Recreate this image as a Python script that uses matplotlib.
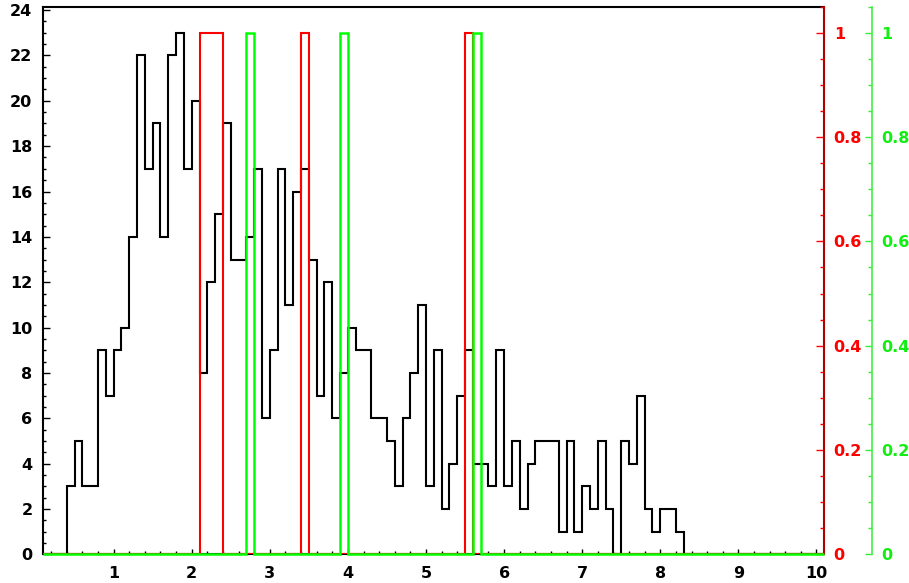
import numpy as np
import matplotlib
matplotlib.use("Agg")
import matplotlib.pyplot as plt
from matplotlib.ticker import MultipleLocator, FixedLocator, FixedFormatter

# Histogram binning: 100 bins of width 0.1 from 0.1 to 10.1
x_min, x_max, n_bins = 0.1, 10.1, 100

# Main distribution: counts of consecutive bins starting at 0.4
black_start = 0.4
black_counts = [3, 5, 3, 3, 9, 7,
                9, 10, 14, 22, 17, 19, 14, 22, 23, 17,
                20, 8, 12, 15, 19, 13, 13, 14, 17, 6,
                9, 17, 11, 16, 17, 13, 7, 12, 6, 8,
                10, 9, 9, 6, 6, 5, 3, 6, 8, 11,
                3, 9, 2, 4, 7, 9, 4, 4, 3, 9,
                3, 5, 2, 4, 5, 5, 5, 1, 5, 1,
                3, 2, 5, 2, 0, 5, 4, 7, 2, 1,
                2, 2, 1]

# Marker histograms (lower bin edges of filled bins, each with content 1)
red_bins = [2.1, 2.2, 2.3, 3.4, 5.5]
green_bins = [2.7, 3.9, 5.6]

x_ticks = [1, 2, 3, 4, 5, 6, 7, 8, 9, 10]
y_ticks = [0, 2, 4, 6, 8, 10, 12, 14, 16, 18, 20, 22, 24]
right_ticks = [0, 0.2, 0.4, 0.6, 0.8, 1.0]
right_labels = ["0", "0.2", "0.4", "0.6", "0.8", "1"]

edges = np.linspace(x_min, x_max, n_bins + 1)
width = (x_max - x_min) / n_bins


def bin_index(x):
    return int(round((x - x_min) / width))


black = np.zeros(n_bins)
i0 = bin_index(black_start)
black[i0:i0 + len(black_counts)] = black_counts

red = np.zeros(n_bins)
for b in red_bins:
    red[bin_index(b)] = 1

green = np.zeros(n_bins)
for b in green_bins:
    green[bin_index(b)] = 1

plt.rcParams["font.family"] = ["DejaVu Sans"]
plt.rcParams["font.weight"] = "bold"

W, H = 909, 583
fig = plt.figure(figsize=(W / 100, H / 100), dpi=100)
left, right, top, bottom = 43.3, 824.3, 6.7, 554.3
ax = fig.add_axes([left / W, 1 - bottom / H, (right - left) / W, (bottom - top) / H])

fs = 11.5
red_c = "#ff0000"
green_c = "#11ee11"

# --- main histogram ---
ax.stairs(black, edges, baseline=0, color="black", lw=1.5, zorder=3)
ax.set_xlim(x_min, x_max)
ax.set_ylim(0, max(black_counts) * 1.05)

for s in ("left", "top", "bottom"):
    ax.spines[s].set_linewidth(1.5)
    ax.spines[s].set_color("black")
ax.spines["right"].set_visible(False)

ax.xaxis.set_major_locator(FixedLocator(x_ticks))
ax.xaxis.set_minor_locator(MultipleLocator(0.2))
ax.yaxis.set_major_locator(FixedLocator(y_ticks))
ax.yaxis.set_minor_locator(MultipleLocator(0.5))
ax.tick_params(axis="x", which="major", direction="in", length=3.8, width=1.0,
               labelsize=fs, pad=8.3, top=False)
ax.tick_params(axis="x", which="minor", direction="in", length=2.2, width=1.0, top=False)
ax.tick_params(axis="y", which="major", direction="in", length=5.0, width=1.0,
               labelsize=fs, pad=7.8, right=False)
ax.tick_params(axis="y", which="minor", direction="in", length=2.5, width=1.0, right=False)
for lab in ax.get_xticklabels() + ax.get_yticklabels():
    lab.set_fontweight("bold")

# --- red overlay with its own axis on the frame edge ---
ax2 = ax.twinx()
ax2.stairs(red, edges, baseline=0, color=red_c, lw=1.5, zorder=3)
ax2.set_ylim(0, 1.05)
for s in ("left", "top", "bottom"):
    ax2.spines[s].set_visible(False)
ax2.spines["right"].set_color("#b00000")
ax2.spines["right"].set_linewidth(1.5)
ax2.yaxis.set_major_locator(FixedLocator(right_ticks))
ax2.yaxis.set_major_formatter(FixedFormatter(right_labels))
ax2.yaxis.set_minor_locator(MultipleLocator(0.05))
ax2.tick_params(axis="y", which="major", direction="in", length=5.8, width=1.0,
                colors=red_c, labelsize=fs, pad=6.8)
ax2.tick_params(axis="y", which="minor", direction="in", length=2.9, width=1.0, colors=red_c)
for lab in ax2.get_yticklabels():
    lab.set_fontweight("bold")

# --- green overlay with an offset axis further right ---
ax3 = ax.twinx()
ax3.stairs(green, edges, baseline=0, color="#00ff00", lw=1.8, zorder=3, clip_on=False)
ax3.set_ylim(0, 1.05)
for s in ("left", "top", "bottom"):
    ax3.spines[s].set_visible(False)
ax3.spines["right"].set_position(("axes", 1 + (871.7 - right) / (right - left)))
ax3.spines["right"].set_color("#44ee44")
ax3.spines["right"].set_linewidth(1.2)
ax3.yaxis.set_major_locator(FixedLocator(right_ticks))
ax3.yaxis.set_major_formatter(FixedFormatter(right_labels))
ax3.yaxis.set_minor_locator(MultipleLocator(0.05))
ax3.tick_params(axis="y", which="major", direction="in", length=5.2, width=1.0,
                colors="#33ee33", labelsize=fs, pad=6.8)
ax3.tick_params(axis="y", which="minor", direction="in", length=2.9, width=1.0, colors="#33ee33")
for lab in ax3.get_yticklabels():
    lab.set_fontweight("bold")
    lab.set_color(green_c)

fig.savefig("out.png", dpi=100)
